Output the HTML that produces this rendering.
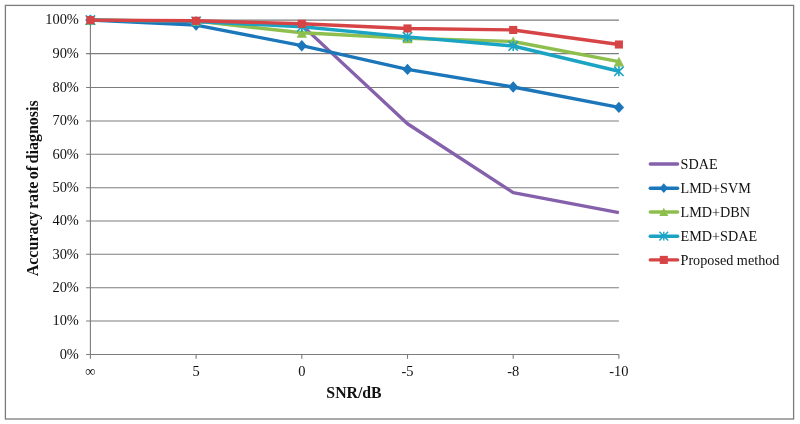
<!DOCTYPE html>
<html><head><meta charset="utf-8"><title>Accuracy rate of diagnosis vs SNR</title>
<style>
html,body{margin:0;padding:0;background:#fff;}
body{width:800px;height:424px;overflow:hidden;}
svg{display:block;}
text{font-family:"Liberation Serif","Times New Roman",serif;fill:#111;}
.t{font-size:14.45px;}
.b{font-weight:bold;}
</style></head><body>
<svg width="800" height="424" viewBox="0 0 800 424">
<rect x="0" y="0" width="800" height="424" fill="#fff"/>
<rect x="5.4" y="5.4" width="788.2" height="413.6" fill="#fff" stroke="#7c7c7c" stroke-width="1.3"/>

<line x1="86.10" y1="354.50" x2="618.9" y2="354.50" stroke="#7c7c7c" stroke-width="1.1"/>
<line x1="86.10" y1="321.00" x2="618.9" y2="321.00" stroke="#7c7c7c" stroke-width="1.1"/>
<line x1="86.10" y1="287.70" x2="618.9" y2="287.70" stroke="#7c7c7c" stroke-width="1.1"/>
<line x1="86.10" y1="254.30" x2="618.9" y2="254.30" stroke="#7c7c7c" stroke-width="1.1"/>
<line x1="86.10" y1="221.00" x2="618.9" y2="221.00" stroke="#7c7c7c" stroke-width="1.1"/>
<line x1="86.10" y1="187.70" x2="618.9" y2="187.70" stroke="#7c7c7c" stroke-width="1.1"/>
<line x1="86.10" y1="154.30" x2="618.9" y2="154.30" stroke="#7c7c7c" stroke-width="1.1"/>
<line x1="86.10" y1="121.00" x2="618.9" y2="121.00" stroke="#7c7c7c" stroke-width="1.1"/>
<line x1="86.10" y1="87.50" x2="618.9" y2="87.50" stroke="#7c7c7c" stroke-width="1.1"/>
<line x1="86.10" y1="53.60" x2="618.9" y2="53.60" stroke="#7c7c7c" stroke-width="1.1"/>
<line x1="86.10" y1="20.10" x2="618.9" y2="20.10" stroke="#7c7c7c" stroke-width="1.1"/>
<line x1="90.4" y1="20.1" x2="90.4" y2="358.8" stroke="#7c7c7c" stroke-width="1.1"/>
<line x1="196.10" y1="354.5" x2="196.10" y2="358.8" stroke="#7c7c7c" stroke-width="1.1"/>
<line x1="301.80" y1="354.5" x2="301.80" y2="358.8" stroke="#7c7c7c" stroke-width="1.1"/>
<line x1="407.50" y1="354.5" x2="407.50" y2="358.8" stroke="#7c7c7c" stroke-width="1.1"/>
<line x1="513.20" y1="354.5" x2="513.20" y2="358.8" stroke="#7c7c7c" stroke-width="1.1"/>
<line x1="618.90" y1="354.5" x2="618.90" y2="358.8" stroke="#7c7c7c" stroke-width="1.1"/>
<text class="t" transform="translate(78.9,358.70) scale(1,1.0)" text-anchor="end">0%</text>
<text class="t" transform="translate(78.9,325.20) scale(1,1.0)" text-anchor="end">10%</text>
<text class="t" transform="translate(78.9,291.90) scale(1,1.0)" text-anchor="end">20%</text>
<text class="t" transform="translate(78.9,258.50) scale(1,1.0)" text-anchor="end">30%</text>
<text class="t" transform="translate(78.9,225.20) scale(1,1.0)" text-anchor="end">40%</text>
<text class="t" transform="translate(78.9,191.90) scale(1,1.0)" text-anchor="end">50%</text>
<text class="t" transform="translate(78.9,158.50) scale(1,1.0)" text-anchor="end">60%</text>
<text class="t" transform="translate(78.9,125.20) scale(1,1.0)" text-anchor="end">70%</text>
<text class="t" transform="translate(78.9,91.70) scale(1,1.0)" text-anchor="end">80%</text>
<text class="t" transform="translate(78.9,57.80) scale(1,1.0)" text-anchor="end">90%</text>
<text class="t" transform="translate(78.9,24.30) scale(1,1.0)" text-anchor="end">100%</text>
<text class="t" transform="translate(90.40,375.6) scale(1,1.0)" text-anchor="middle">∞</text>
<text class="t" transform="translate(196.10,375.6) scale(1,1.0)" text-anchor="middle">5</text>
<text class="t" transform="translate(301.80,375.6) scale(1,1.0)" text-anchor="middle">0</text>
<text class="t" transform="translate(407.50,375.6) scale(1,1.0)" text-anchor="middle">-5</text>
<text class="t" transform="translate(513.20,375.6) scale(1,1.0)" text-anchor="middle">-8</text>
<text class="t" transform="translate(618.90,375.6) scale(1,1.0)" text-anchor="middle">-10</text>
<text class="b" x="354" y="397.6" text-anchor="middle" font-size="15.8">SNR/dB</text>
<text class="b" transform="translate(38.1,188.3) rotate(-90)" text-anchor="middle" font-size="16" word-spacing="-1.6">Accuracy rate of diagnosis</text>
<polyline points="90.40,20.10 196.10,21.44 301.80,25.12 407.50,123.76 513.20,192.65 618.90,212.55" fill="none" stroke="#8560AB" stroke-width="3.4" stroke-linejoin="round" stroke-linecap="butt"/>






<polyline points="90.40,20.10 196.10,25.12 301.80,45.68 407.50,69.42 513.20,86.98 618.90,107.38" fill="none" stroke="#1B76BA" stroke-width="3.4" stroke-linejoin="round" stroke-linecap="butt"/>
<path d="M90.40 14.40L95.60 20.10L90.40 25.80L85.20 20.10Z" fill="#1B76BA"/>
<path d="M196.10 19.42L201.30 25.12L196.10 30.82L190.90 25.12Z" fill="#1B76BA"/>
<path d="M301.80 39.98L307.00 45.68L301.80 51.38L296.60 45.68Z" fill="#1B76BA"/>
<path d="M407.50 63.72L412.70 69.42L407.50 75.12L402.30 69.42Z" fill="#1B76BA"/>
<path d="M513.20 81.28L518.40 86.98L513.20 92.68L508.00 86.98Z" fill="#1B76BA"/>
<path d="M618.90 101.68L624.10 107.38L618.90 113.08L613.70 107.38Z" fill="#1B76BA"/>
<polyline points="90.40,20.10 196.10,21.10 301.80,32.81 407.50,38.32 513.20,41.50 618.90,61.57" fill="none" stroke="#8EBF4E" stroke-width="3.4" stroke-linejoin="round" stroke-linecap="butt"/>
<path d="M90.40 15.20L95.60 25.00L85.20 25.00Z" fill="#8EBF4E"/>
<path d="M196.10 16.20L201.30 26.00L190.90 26.00Z" fill="#8EBF4E"/>
<path d="M301.80 27.91L307.00 37.71L296.60 37.71Z" fill="#8EBF4E"/>
<path d="M407.50 33.42L412.70 43.22L402.30 43.22Z" fill="#8EBF4E"/>
<path d="M513.20 36.60L518.40 46.40L508.00 46.40Z" fill="#8EBF4E"/>
<path d="M618.90 56.67L624.10 66.47L613.70 66.47Z" fill="#8EBF4E"/>
<polyline points="90.40,20.10 196.10,21.44 301.80,26.79 407.50,36.82 513.20,46.02 618.90,71.26" fill="none" stroke="#1BA3C4" stroke-width="3.4" stroke-linejoin="round" stroke-linecap="butt"/>
<path d="M85.70 15.40L95.10 24.80M95.10 15.40L85.70 24.80M90.40 15.10L90.40 25.10" stroke="#1BA3C4" stroke-width="1.6" fill="none"/>
<path d="M191.40 16.74L200.80 26.14M200.80 16.74L191.40 26.14M196.10 16.44L196.10 26.44" stroke="#1BA3C4" stroke-width="1.6" fill="none"/>
<path d="M297.10 22.09L306.50 31.49M306.50 22.09L297.10 31.49M301.80 21.79L301.80 31.79" stroke="#1BA3C4" stroke-width="1.6" fill="none"/>
<path d="M402.80 32.12L412.20 41.52M412.20 32.12L402.80 41.52M407.50 31.82L407.50 41.82" stroke="#1BA3C4" stroke-width="1.6" fill="none"/>
<path d="M508.50 41.32L517.90 50.72M517.90 41.32L508.50 50.72M513.20 41.02L513.20 51.02" stroke="#1BA3C4" stroke-width="1.6" fill="none"/>
<path d="M614.20 66.56L623.60 75.96M623.60 66.56L614.20 75.96M618.90 66.26L618.90 76.26" stroke="#1BA3C4" stroke-width="1.6" fill="none"/>
<polyline points="90.40,20.10 196.10,20.77 301.80,23.78 407.50,28.46 513.20,29.96 618.90,44.51" fill="none" stroke="#D64446" stroke-width="3.4" stroke-linejoin="round" stroke-linecap="butt"/>
<rect x="86.35" y="16.05" width="8.1" height="8.1" fill="#D64446"/>
<rect x="192.05" y="16.72" width="8.1" height="8.1" fill="#D64446"/>
<rect x="297.75" y="19.73" width="8.1" height="8.1" fill="#D64446"/>
<rect x="403.45" y="24.41" width="8.1" height="8.1" fill="#D64446"/>
<rect x="509.15" y="25.91" width="8.1" height="8.1" fill="#D64446"/>
<rect x="614.85" y="40.46" width="8.1" height="8.1" fill="#D64446"/>
<line x1="650.3" y1="164" x2="677.6" y2="164" stroke="#8560AB" stroke-width="3.4" stroke-linecap="round"/>

<text x="680.5" y="168.60" font-size="14.2">SDAE</text>
<line x1="650.3" y1="188.2" x2="677.6" y2="188.2" stroke="#1B76BA" stroke-width="3.4" stroke-linecap="round"/>
<path d="M663.80 183.30L668.00 188.20L663.80 193.10L659.60 188.20Z" fill="#1B76BA"/>
<text x="680.5" y="192.80" font-size="14.2">LMD+SVM</text>
<line x1="650.3" y1="212.0" x2="677.6" y2="212.0" stroke="#8EBF4E" stroke-width="3.4" stroke-linecap="round"/>
<path d="M663.80 207.70L668.40 216.10L659.20 216.10Z" fill="#8EBF4E"/>
<text x="680.5" y="216.60" font-size="14.2">LMD+DBN</text>
<line x1="650.3" y1="236.2" x2="677.6" y2="236.2" stroke="#1BA3C4" stroke-width="3.4" stroke-linecap="round"/>
<path d="M659.40 231.80L668.20 240.60M668.20 231.80L659.40 240.60M663.80 231.80L663.80 240.60" stroke="#1BA3C4" stroke-width="1.4" fill="none"/>
<text x="680.5" y="240.80" font-size="14.2">EMD+SDAE</text>
<line x1="650.3" y1="259.9" x2="677.6" y2="259.9" stroke="#D64446" stroke-width="3.4" stroke-linecap="round"/>
<rect x="659.75" y="255.85" width="8.1" height="8.1" fill="#D64446"/>
<text x="680.5" y="264.50" font-size="14.2">Proposed method</text>
</svg></body></html>
